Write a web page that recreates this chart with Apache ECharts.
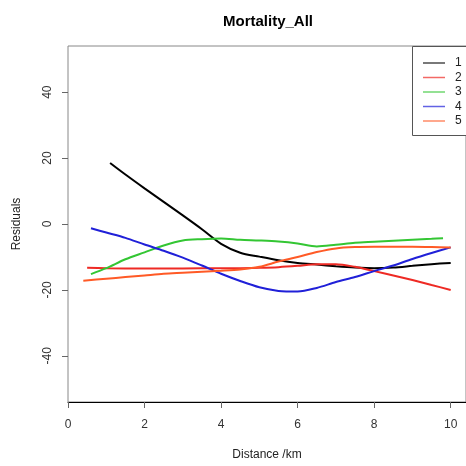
<!DOCTYPE html>
<html>
<head>
<meta charset="utf-8">
<script src="https://cdn.jsdelivr.net/npm/echarts@6/dist/echarts.min.js"></script>
<style>
  html, body { margin: 0; padding: 0; background: #fff; }
  #chart { width: 466px; height: 466px; }
</style>
</head>
<body>
<div id="chart"></div>
<script>
// group names
var groups = ['1', '2', '3', '4', '5'];
var colors = ['#000000', '#ee2a24', '#33c633', '#2020d8', '#ff5a26'];

// distance (km) and fitted residuals for each group
var dist1  = [1.1, 1.5, 2.0, 2.5, 3.0, 3.5, 4.0, 4.5, 5.0, 5.5, 6.0, 6.5, 7.0, 7.5, 8.0, 8.5, 9.0, 9.5, 10.0];
var resid1 = [18.5, 15.0, 10.8, 6.7, 2.6, -1.6, -6.0, -8.7, -9.9, -11.0, -11.8, -12.3, -12.8, -13.2, -13.4, -13.2, -12.7, -12.2, -11.8];

var dist2  = [0.5, 1.0, 2.0, 3.0, 4.0, 4.5, 5.0, 5.5, 6.0, 6.5, 7.0, 7.5, 8.0, 8.5, 9.0, 9.5, 10.0];
var resid2 = [-13.3, -13.4, -13.5, -13.5, -13.4, -13.4, -13.3, -13.1, -12.7, -12.2, -12.2, -13.0, -14.3, -15.6, -17.0, -18.5, -20.0];

var dist3  = [0.6, 1.0, 1.5, 2.0, 2.5, 3.0, 3.5, 4.0, 4.5, 5.0, 5.5, 6.0, 6.5, 7.0, 7.5, 8.0, 8.5, 9.0, 9.5, 9.8];
var resid3 = [-15.2, -13.4, -10.7, -8.6, -6.5, -5.0, -4.6, -4.4, -4.8, -5.0, -5.3, -5.9, -6.8, -6.3, -5.7, -5.4, -5.1, -4.8, -4.5, -4.3];

var dist4  = [0.6, 1.0, 1.5, 2.0, 2.5, 3.0, 3.5, 4.0, 4.5, 5.0, 5.5, 6.0, 6.5, 7.0, 7.5, 8.0, 8.5, 9.0, 9.5, 10.0];
var resid4 = [-1.3, -2.6, -4.2, -6.2, -8.1, -10.2, -12.6, -15.1, -17.3, -19.2, -20.3, -20.5, -19.4, -17.6, -16.1, -14.3, -12.6, -10.6, -8.8, -7.1];

var dist5  = [0.4, 1.0, 1.5, 2.0, 2.5, 3.0, 3.5, 4.0, 4.5, 5.0, 5.5, 6.0, 6.5, 7.0, 7.5, 8.0, 8.5, 9.0, 9.5, 10.0];
var resid5 = [-17.2, -16.6, -16.1, -15.6, -15.1, -14.8, -14.5, -14.2, -13.8, -13.0, -11.4, -10.0, -8.5, -7.4, -7.0, -6.9, -6.9, -6.9, -7.0, -7.1];

// tick labels
var xTicks = [0, 2, 4, 6, 8, 10];
var yTicks = [-40, -20, 0, 20, 40];

var dists = [dist1, dist2, dist3, dist4, dist5];
var resids = [resid1, resid2, resid3, resid4, resid5];

var series = [];
var legendData = [];
for (var i = 0; i < groups.length; i++) {
    var pts = [];
    for (var k = 0; k < dists[i].length; k++) {
        pts.push([dists[i][k], resids[i][k]]);
    }
    series.push({
        name: groups[i],
        type: 'line',
        data: pts,
        smooth: 0.3,
        showSymbol: false,
        symbol: 'none',
        color: colors[i],
        lineStyle: { width: 2, color: colors[i] },
        z: 2 + i
    });
    // thin line key like R's legend
    legendData.push({ name: groups[i], icon: 'rect', itemStyle: { color: colors[i], opacity: 0.7 } });
}

var font = 'Liberation Sans, Arial, sans-serif';
var chart = echarts.init(document.getElementById('chart'));
var option = {
    animation: false,
    backgroundColor: '#fff',
    textStyle: { fontFamily: font },
    title: {
        text: 'Mortality_All',
        left: 218,
        top: 9,
        textStyle: { fontSize: 15, fontWeight: 'bold', color: '#000', fontFamily: font }
    },
    // legend frame runs off the right edge, as in the original
    graphic: [{
        type: 'rect',
        left: 412,
        top: 46,
        z: 90,
        shape: { width: 80, height: 89 },
        style: { fill: '#fff', stroke: '#555', lineWidth: 1 }
    }],
    legend: {
        orient: 'vertical',
        left: 412,
        top: 47,
        padding: [9, 10, 9, 11],
        itemWidth: 22,
        itemHeight: 1.5,
        itemGap: 0.5,
        z: 100,
        textStyle: { fontSize: 12, lineHeight: 14, color: '#222', padding: [0, 0, 0, 5] },
        data: legendData
    },
    grid: {
        left: 68,
        top: 46,
        right: -3,
        bottom: 63,
        show: true,
        borderColor: '#888',
        borderWidth: 1
    },
    xAxis: {
        type: 'value',
        min: 0,
        max: 10.4,
        name: 'Distance /km',
        nameLocation: 'middle',
        nameGap: 47,
        nameTextStyle: { fontSize: 12, color: '#222' },
        axisLine: { show: true, onZero: false, lineStyle: { color: '#000', width: 1 } },
        axisTick: { show: true, length: 6, customValues: xTicks, lineStyle: { color: '#666' } },
        axisLabel: { customValues: xTicks, fontSize: 12, color: '#333', margin: 17 },
        splitLine: { show: false }
    },
    yAxis: {
        type: 'value',
        min: -54,
        max: 54,
        name: 'Residuals',
        nameLocation: 'middle',
        nameRotate: 90,
        nameGap: 45,
        nameTextStyle: { fontSize: 12, color: '#222' },
        axisLine: { show: false },
        axisTick: { show: true, length: 6, customValues: yTicks, lineStyle: { color: '#666' } },
        axisLabel: { customValues: yTicks, rotate: 90, fontSize: 12, color: '#333', margin: 14 },
        splitLine: { show: false }
    },
    series: series
};
chart.setOption(option);
</script>
</body>
</html>
